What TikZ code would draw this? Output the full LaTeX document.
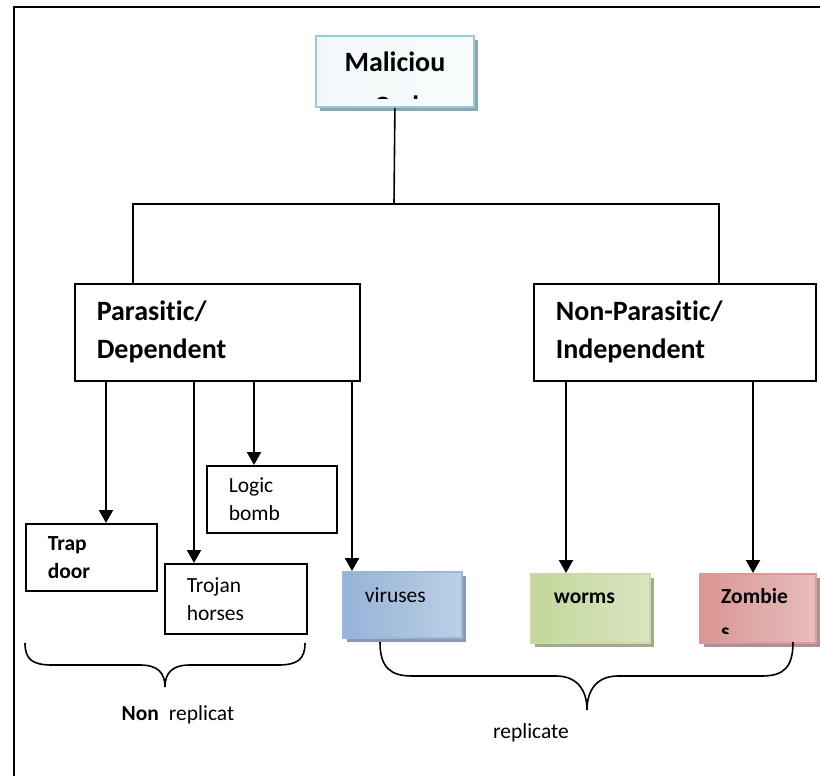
\documentclass[tikz,border=0pt]{standalone}
\usepackage{fontspec}
\setmainfont{Carlito}[Ligatures=NoCommon]
\usetikzlibrary{arrows.meta,shadows}

\definecolor{malline}{HTML}{92CDDC}
\definecolor{malfill}{HTML}{F2F8FA}
\definecolor{malshade}{HTML}{8FA6B2}
\definecolor{virfill}{HTML}{95B3D7}
\definecolor{virlight}{HTML}{DCE6F2}
\definecolor{virline}{HTML}{9AB6DB}
\definecolor{virshade}{HTML}{8C98AC}
\definecolor{wormfill}{HTML}{C3D69B}
\definecolor{wormlight}{HTML}{EBF1DE}
\definecolor{wormline}{HTML}{C9DBA6}
\definecolor{wormshade}{HTML}{A3A98E}
\definecolor{zomfill}{HTML}{D99694}
\definecolor{zomlight}{HTML}{F2DCDB}
\definecolor{zomline}{HTML}{DB9A99}
\definecolor{zomshade}{HTML}{A89392}

\newcommand{\headfont}{\fontsize{28}{38}\selectfont\bfseries}
\newcommand{\leaffont}{\fontsize{21.5}{28}\selectfont}

\tikzset{
  plainbox/.style={draw, line width=1.6pt, anchor=north west, align=left,
    inner xsep=22pt, inner ysep=0pt},
  headbox/.style={plainbox, font=\headfont},
  leafbox/.style={plainbox, font=\leaffont},
  colbox/.style n args={4}{draw=#1, line width=1.8pt, left color=#2, right color=#2!45!#3,
    anchor=north west, inner sep=0pt, align=left,
    drop shadow={shadow xshift=4pt, shadow yshift=-4pt, fill=#4, opacity=1}},
  link/.style={line width=1.6pt},
  arr/.style={-{Triangle[width=14pt,length=13pt]}, line width=2.2pt},
}

\begin{document}
\begin{tikzpicture}[x=1pt, y=-1pt]
\useasboundingbox (0,0) rectangle (820,776);
% page frame
\draw[line width=1.8pt] (14,776) -- (14,7) -- (820,7);

% top of the tree
\node[colbox={malline}{malfill}{white}{malshade}, minimum width=158pt, minimum height=71pt] (mal) at (315,35) {};
\begin{scope}
  \clip ([yshift=9pt]mal.south west) rectangle (mal.north east);
  \node[anchor=base, inner sep=0pt, font=\headfont] (mal line1) at ([yshift=-37pt]mal.north) {Maliciou};
  \node[anchor=base, inner sep=0pt, font=\headfont] (mal line2) at ([yshift=-80pt]mal.north) {s Code};
\end{scope}

\node[headbox, text width=241pt, minimum height=97pt] (par) at (74,283) {Parasitic/\\Dependent};
\node[headbox, text width=238pt, minimum height=97pt] (npar) at (533,283) {Non-Parasitic/\\Independent};

\coordinate (split) at (394,204);
\draw[link] (mal.south) -- (split) -| (par.north -| 133,0);
\draw[link] (split) -| (npar.north -| 719,0);

% parasitic kinds
\node[leafbox, text width=86pt, minimum height=67pt] (logic) at (206,465) {Logic\\bomb};
\node[leafbox, font=\leaffont\bfseries, text width=87pt, minimum height=67pt] (trap) at (25,523) {Trap\\door};
\node[leafbox, text width=98pt, minimum height=70pt] (trojan) at (164,563) {Trojan\\horses};
\node[colbox={virline}{virfill}{virlight}{virshade}, font=\leaffont, inner xsep=22pt,
  text width=75pt, minimum height=66pt] (vir) at (342,571) {viruses\\[-8pt]~};

% non-parasitic kinds
\node[colbox={wormline}{wormfill}{wormlight}{wormshade}, font=\leaffont\bfseries, inner xsep=23pt,
  text width=73pt, minimum height=69pt] (worm) at (530,573) {worms\\[-8pt]~};
\node[colbox={zomline}{zomfill}{zomlight}{zomshade}, minimum width=116pt, minimum height=69pt] (zom) at (699,573) {};
\begin{scope}
  \clip ([yshift=10pt]zom.south west) rectangle (zom.north east);
  \node[anchor=base west, inner sep=0pt, font=\leaffont\bfseries] (zom line1) at ([xshift=22pt,yshift=-30pt]zom.north west) {Zombie};
  \node[anchor=base west, inner sep=0pt, font=\leaffont\bfseries] (zom line2) at ([xshift=22pt,yshift=-65pt]zom.north west) {s};
\end{scope}

\draw[arr] (par.south -| 106,0) -- (trap.north -| 106,0);
\draw[arr] (par.south -| 194,0) -- (trojan.north -| 194,0);
\draw[arr] (par.south -| 254,0) -- (logic.north -| 254,0);
\draw[arr] (par.south -| 352,0) -- (vir.north -| 352,0);
\draw[arr] (npar.south -| 566,0) -- (worm.north -| 566,0);
\draw[arr] (npar.south -| 753,0) -- (zom.north -| 753,0);

% braces
\draw[link] (25,643) .. controls (25,659) and (32,665) .. (52,665) -- (140,665)
  .. controls (158,665) and (165,673) .. (165,687)
  .. controls (165,673) and (172,665) .. (190,665) -- (278,665)
  .. controls (298,665) and (305,659) .. (305,643);
\draw[link] (380,642) .. controls (380,667) and (390,676) .. (412,676) -- (556,676)
  .. controls (577,676) and (587,690) .. (587,710)
  .. controls (587,690) and (597,676) .. (618,676) -- (762,676)
  .. controls (784,676) and (793,667) .. (793,642);

\node[font=\leaffont] (nonrep) at (178,715) {\textbf{Non}\hspace{10pt}replicat};
\node[font=\leaffont] (rep) at (531,733) {replicate};
\end{tikzpicture}
\end{document}
